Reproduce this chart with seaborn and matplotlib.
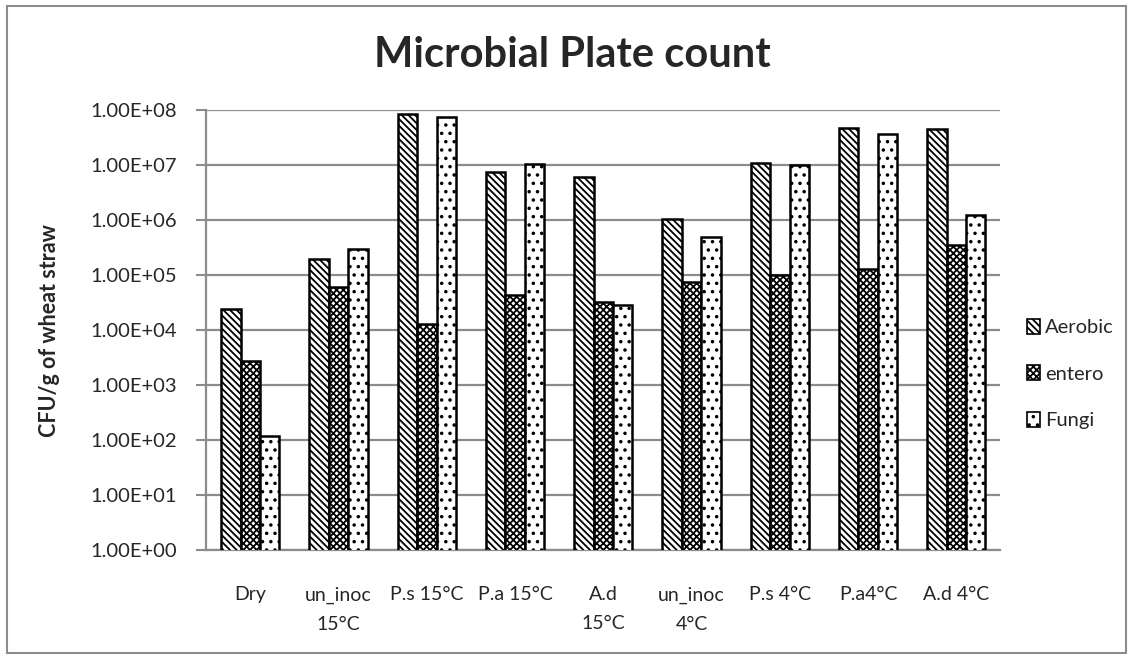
import numpy as np
import pandas as pd
import matplotlib
matplotlib.use("Agg")
import matplotlib.pyplot as plt
import seaborn as sns
from matplotlib.patches import Patch, Rectangle

categories = ["Dry", "un_inoc\n15°C", "P.s 15°C", "P.a 15°C", "A.d\n15°C",
              "un_inoc\n4°C", "P.s 4°C", "P.a4°C", "A.d 4°C"]
series = ["Aerobic", "entero", "Fungi"]
aerobic = [2.4e4, 2.0e5, 8.5e7, 7.5e6, 6.0e6, 1.05e6, 1.08e7, 4.7e7, 4.6e7]
entero = [2.7e3, 6.0e4, 1.3e4, 4.4e4, 3.2e4, 7.4e4, 1.0e5, 1.3e5, 3.5e5]
fungi = [1.2e2, 3.0e5, 7.5e7, 1.05e7, 2.9e4, 5.0e5, 1.0e7, 3.7e7, 1.25e6]
ytick_values = [1e0, 1e1, 1e2, 1e3, 1e4, 1e5, 1e6, 1e7, 1e8]
ytick_labels = ["1.00E+00", "1.00E+01", "1.00E+02", "1.00E+03", "1.00E+04",
                "1.00E+05", "1.00E+06", "1.00E+07", "1.00E+08"]

df = pd.DataFrame({
    "category": categories * 3,
    "series": sum([[s] * len(categories) for s in series], []),
    "value": aerobic + entero + fungi,
})

sns.set_theme(style="white")
plt.rcParams["font.family"] = ["Lato", "DejaVu Sans"]
plt.rcParams["hatch.linewidth"] = 1.3
plt.rcParams["hatch.color"] = "black"

fig = plt.figure(figsize=(11.33, 6.59), dpi=100)
ax = fig.add_axes([0.182, 0.165, 0.701, 0.668])
ax.set_yscale("log")

hatches = {"Aerobic": "\\\\\\\\\\", "entero": "xxxxx", "Fungi": ".."}

sns.barplot(data=df, x="category", y="value", hue="series", order=categories,
            hue_order=series, palette=["white"] * 3, width=0.66,
            edgecolor="black", linewidth=1.8, ax=ax, legend=False, zorder=3)

for cont, s in zip(ax.containers, series):
    for bar in cont:
        bar.set_hatch(hatches[s])
        bar.set_facecolor("white")
        bar.set_edgecolor("black")

ax.set_ylim(1, 1e8)
ax.set_yticks(ytick_values)
ax.set_yticklabels(ytick_labels, fontsize=14.5)
ax.yaxis.set_minor_locator(matplotlib.ticker.NullLocator())
ax.grid(axis="y", color="#8c8c8c", linewidth=1.6, zorder=0)
ax.set_axisbelow(True)
ax.tick_params(axis="y", which="major", left=True, length=7, width=1.5,
               color="#8c8c8c", pad=14)
ax.tick_params(axis="x", length=0, labelsize=14, pad=26)
for lab in ax.get_xticklabels():
    lab.set_linespacing(1.85)

for side in ["top", "right"]:
    ax.spines[side].set_visible(False)
for side in ["left", "bottom"]:
    ax.spines[side].set_color("#8c8c8c")
    ax.spines[side].set_linewidth(1.6)

ax.set_xlabel("")
ax.set_ylabel("CFU/g of wheat straw", fontsize=15.5, fontweight="bold", labelpad=22)
fig.text(0.505, 0.917, "Microbial Plate count", fontsize=30, fontweight="bold",
         ha="center", va="center")

handles = [Patch(facecolor="white", edgecolor="black", hatch=hatches[s], linewidth=1.2)
           for s in series]
leg = ax.legend(handles, series, loc="center left", bbox_to_anchor=(1.01, 0.40),
                frameon=False, fontsize=14.5, handlelength=0.65, handleheight=0.75,
                handletextpad=0.25, labelspacing=1.45)

fig.patches.append(Rectangle((0.006, 0.009), 0.988, 0.982, transform=fig.transFigure,
                             fill=False, edgecolor="#8c8c8c", linewidth=1.5))

fig.savefig("out.png", dpi=100)
